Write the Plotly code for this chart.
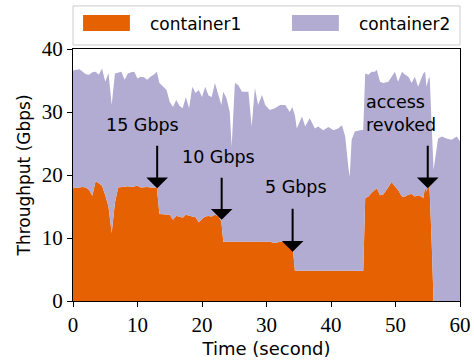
import plotly.graph_objects as go

time_s = [0.0, 0.5, 1.0, 1.5, 2.0, 2.5, 3.0, 3.5, 4.0, 4.5, 5.0, 5.5, 6.0, 6.5, 7.0, 7.5, 8.0, 8.5, 9.0, 9.5,
          10.0, 10.5, 11.0, 11.5, 12.0, 12.5, 13.0, 13.4, 14.0, 14.5, 15.0, 15.5, 16.0, 16.5, 17.0, 17.5, 18.0, 18.5, 19.0, 19.5,
          20.0, 20.5, 21.0, 21.5, 22.0, 22.5, 23.0, 23.3, 23.8, 24.3, 24.6, 25.1, 25.6, 26.2, 26.7, 27.2, 27.7, 28.2, 28.7, 29.3,
          29.8, 30.5, 31.3, 32.1, 32.9, 33.6, 34.0, 34.4, 34.7, 35.5, 36.0, 36.7, 37.5, 38.0, 38.8, 39.6, 40.4, 41.1, 41.7, 42.2,
          42.7, 42.9, 43.2, 43.7, 44.5, 45.0, 45.3, 45.8, 46.3, 46.8, 47.1, 47.6, 48.1, 48.9, 49.4, 49.9, 50.4, 51.0, 51.5, 52.0,
          52.5, 53.0, 53.5, 54.0, 54.3, 54.6, 54.8, 55.1, 55.3, 55.6, 55.9, 56.6, 57.2, 57.9, 58.7, 59.5, 60.0]

container1 = [17.9, 18.0, 18.1, 18.1, 18.0, 17.6, 16.7, 19.0, 18.7, 18.3, 16.8, 15.0, 10.8, 15.6, 18.0, 18.1, 18.1, 18.2, 18.1, 18.2,
              18.3, 18.0, 18.1, 18.1, 18.0, 18.0, 18.0, 13.8, 13.8, 13.7, 13.7, 12.9, 13.5, 13.4, 13.2, 13.7, 13.5, 13.4, 13.3, 12.5,
              13.0, 13.4, 13.5, 13.4, 13.7, 13.5, 12.6, 9.4, 9.4, 9.4, 9.4, 9.3, 9.4, 9.4, 9.3, 9.4, 9.4, 9.4, 9.4, 9.3,
              9.4, 9.4, 9.2, 9.4, 9.4, 9.4, 9.4, 4.8, 4.8, 4.8, 4.8, 4.8, 4.8, 4.8, 4.8, 4.8, 4.8, 4.8, 4.8, 4.8,
              4.8, 4.8, 4.8, 4.8, 4.8, 4.8, 16.3, 16.6, 17.2, 17.6, 17.9, 16.8, 16.9, 18.1, 18.9, 18.2, 17.6, 16.6, 16.6, 16.9,
              17.0, 16.6, 16.8, 16.6, 16.3, 18.1, 17.4, 18.4, 17.4, 9.7, 0.0, 0.0, 0.0, 0.0, 0.0, 0.0, 0.0]

container2 = [18.7, 18.7, 18.7, 18.3, 18.0, 18.3, 19.6, 17.4, 17.2, 18.6, 18.0, 21.2, 20.3, 20.5, 18.3, 18.3, 17.0, 17.9, 18.2, 18.2,
              17.0, 17.6, 17.4, 17.0, 17.6, 17.9, 18.4, 20.8, 20.2, 19.8, 17.9, 17.9, 18.4, 17.6, 17.4, 18.7, 17.1, 20.6, 19.7, 21.0,
              19.4, 20.6, 19.1, 19.0, 20.9, 19.5, 18.5, 23.8, 22.8, 20.6, 15.1, 25.3, 24.9, 23.8, 23.9, 23.8, 18.3, 24.4, 21.7, 23.4,
              21.7, 20.9, 21.4, 21.7, 21.7, 20.6, 21.4, 24.7, 22.6, 24.5, 22.9, 24.2, 22.6, 22.9, 22.3, 22.8, 22.3, 22.6, 23.1, 21.3,
              16.3, 14.9, 20.8, 22.1, 22.3, 22.4, 19.8, 19.3, 19.2, 18.8, 18.8, 18.0, 17.7, 16.7, 16.7, 18.2, 17.2, 19.8, 19.3, 18.7,
              17.6, 19.0, 17.2, 18.6, 19.8, 18.3, 16.6, 16.8, 18.2, 18.3, 20.8, 25.8, 26.1, 25.8, 25.6, 26.1, 25.3]

series_names = ["container1", "container2"]
series_colors = ["#e66101", "#b2abd2"]

x_ticks = [0, 10, 20, 30, 40, 50, 60]
y_ticks = [0, 10, 20, 30, 40]

# text labels: (text, x, y, xanchor, align)
label_texts = [
    ("15 Gbps", 10.8, 27.9, "center", "center"),
    ("10 Gbps", 22.6, 22.9, "center", "center"),
    ("5 Gbps", 34.5, 18.1, "center", "center"),
    ("access<br>revoked", 45.1, 29.8, "left", "left"),
]
# arrows: (x, tail_y, head_y)
arrows = [
    (13.05, 24.9, 17.9),
    (23.05, 19.8, 12.9),
    (34.05, 14.9, 7.8),
    (55.0, 24.9, 17.9),
]

SANS = "DejaVu Sans"
SERIF = "Liberation Serif"

fig = go.Figure()
for name, vals, col in zip(series_names, [container1, container2], series_colors):
    fig.add_trace(go.Scatter(
        x=time_s, y=vals, name=name, mode="lines",
        stackgroup="one", line=dict(width=0, color=col),
        fillcolor=col, showlegend=False, hoverinfo="skip",
    ))

annotations = []
for text, tx, ty, xa, al in label_texts:
    annotations.append(dict(x=tx, y=ty, xref="x", yref="y", text=text, showarrow=False,
                            xanchor=xa, align=al,
                            font=dict(family=SANS, size=17.5, color="black")))
for ax_, tail, head in arrows:
    annotations.append(dict(x=ax_, y=head, xref="x", yref="y", ax=ax_, ay=tail, axref="x", ayref="y",
                            text="", showarrow=True, arrowhead=1, arrowsize=1.8, arrowwidth=2,
                            arrowcolor="black", standoff=0))

# custom legend
shapes = [dict(type="rect", xref="paper", yref="paper", x0=0.0, x1=1.0, y0=1.016, y1=1.171,
               line=dict(color="#cccccc", width=1), fillcolor="white", layer="above")]
legend_x = [0.026, 0.566]
for i, (name, col) in enumerate(zip(series_names, series_colors)):
    x0 = legend_x[i]
    shapes.append(dict(type="rect", xref="paper", yref="paper", x0=x0, x1=x0 + 0.121,
                       y0=1.071, y1=1.135, line=dict(width=0), fillcolor=col, layer="above"))
    annotations.append(dict(x=x0 + 0.168, y=1.098, xref="paper", yref="paper", text=name,
                            showarrow=False, xanchor="left", yanchor="middle",
                            font=dict(family=SANS, size=17, color="black")))

fig.update_layout(
    width=474, height=360,
    margin=dict(l=73, r=14, t=49, b=59),
    plot_bgcolor="white", paper_bgcolor="white",
    showlegend=False,
    shapes=shapes, annotations=annotations,
    xaxis=dict(range=[0, 60], tickvals=x_ticks, ticks="outside", ticklen=5, tickcolor="black",
               showline=True, linecolor="black", linewidth=1, mirror=True, showgrid=False, zeroline=False,
               automargin=False,
               tickfont=dict(family=SERIF, size=21, color="black"),
               title=dict(text="Time (second)", font=dict(family=SANS, size=18, color="black"), standoff=6)),
    yaxis=dict(range=[0, 40], tickvals=y_ticks, ticks="outside", ticklen=5, tickcolor="black",
               showline=True, linecolor="black", linewidth=1, mirror=True, showgrid=False, zeroline=False,
               automargin=False,
               tickfont=dict(family=SERIF, size=21, color="black"),
               title=dict(text="Throughput (Gbps)", font=dict(family=SANS, size=17, color="black"), standoff=6)),
)

fig.write_html("out.html", config={"displayModeBar": False},
               post_script="document.body.style.margin='0px';")
